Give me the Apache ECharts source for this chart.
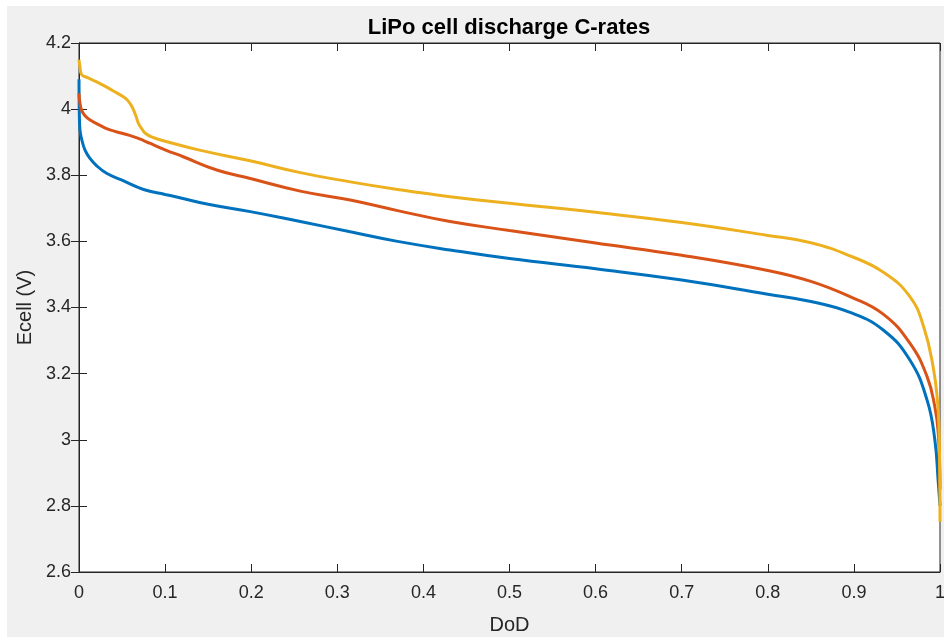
<!DOCTYPE html>
<html>
<head>
<meta charset="utf-8">
<script src="https://cdn.jsdelivr.net/npm/echarts@6/dist/echarts.min.js"></script>
<style>
html,body{margin:0;padding:0;background:#ffffff;}
#chart{position:absolute;left:7px;top:6px;width:937px;height:631px;}
</style>
</head>
<body>
<div id="chart"></div>
<script>
// Data (DoD, Ecell in V)
const dodBlue = [0, 0.0003, 0.001, 0.003, 0.007, 0.013, 0.02, 0.032, 0.05, 0.075, 0.1, 0.117, 0.15, 0.199, 0.257, 0.315, 0.37, 0.431, 0.5, 0.6, 0.7, 0.8, 0.85, 0.8955, 0.934, 0.965, 0.985, 0.994, 0.998, 1.0];
const vBlue   = [4.09, 4.0, 3.94, 3.91, 3.876, 3.85, 3.83, 3.806, 3.785, 3.757, 3.742, 3.732, 3.712, 3.69, 3.66, 3.629, 3.60, 3.574, 3.548, 3.517, 3.483, 3.44, 3.418, 3.385, 3.332, 3.241, 3.12, 3.0, 2.87, 2.8];

const dodRed = [0, 0.001, 0.003, 0.007, 0.013, 0.025, 0.036, 0.05, 0.063, 0.075, 0.082, 0.1, 0.121, 0.16, 0.199, 0.257, 0.315, 0.37, 0.431, 0.5, 0.6, 0.7, 0.8, 0.85, 0.8955, 0.934, 0.965, 0.985, 0.994, 0.998, 1.0];
const vRed   = [4.048, 4.02, 3.997, 3.98, 3.967, 3.95, 3.937, 3.927, 3.917, 3.905, 3.897, 3.877, 3.856, 3.816, 3.79, 3.752, 3.725, 3.693, 3.66, 3.633, 3.595, 3.558, 3.512, 3.479, 3.433, 3.38, 3.292, 3.191, 3.10, 3.02, 2.85];

const dodYellow = [0, 0.001, 0.003, 0.01, 0.024, 0.04, 0.051, 0.057, 0.062, 0.066, 0.069, 0.073, 0.077, 0.085, 0.1, 0.14, 0.2, 0.257, 0.315, 0.37, 0.431, 0.5, 0.6, 0.7, 0.8, 0.85, 0.8955, 0.934, 0.965, 0.981, 0.992, 0.997, 0.999, 1.0];
const vYellow   = [4.15, 4.13, 4.105, 4.095, 4.078, 4.055, 4.038, 4.025, 4.005, 3.98, 3.957, 3.94, 3.927, 3.915, 3.903, 3.876, 3.843, 3.808, 3.78, 3.757, 3.735, 3.715, 3.688, 3.657, 3.618, 3.596, 3.556, 3.507, 3.433, 3.342, 3.221, 3.12, 3.02, 2.752];

const titleText = 'LiPo cell discharge C-rates';
const xName = 'DoD';
const yName = 'Ecell (V)';

const FONT = "'Liberation Sans', Arial, Helvetica, sans-serif";
const AX = '#262626';

function pairs(xs, ys){ return xs.map((x,i)=>[x, ys[i]]); }

const chart = echarts.init(document.getElementById('chart'), null, {renderer:'canvas'});

const tickStyle = {show:true, inside:true, length:8, lineStyle:{color:AX, width:1}};
const lineStyleAx = {show:true, lineStyle:{color:AX, width:1}};
const fmt = v => String(+(+v).toFixed(1));

const option = {
  backgroundColor:'#f0f0f0',
  animation:false,
  title:{
    text:titleText, left:497, top:6, textAlign:'center',
    textStyle:{fontFamily:FONT, fontWeight:'bold', fontSize:22, color:'#000'}
  },
  grid:{left:72, right:4, top:37, bottom:65, containLabel:false, outerBoundsMode:'none',
        show:true, backgroundColor:'#ffffff', borderColor:AX, borderWidth:1},
  xAxis:[
    {type:'value', min:0, max:1, interval:0.1, position:'bottom',
     name:xName, nameLocation:'middle', nameGap:43,
     nameTextStyle:{fontFamily:FONT, fontSize:20, color:AX},
     axisLine:lineStyleAx, axisTick:tickStyle, splitLine:{show:false},
     axisLabel:{fontFamily:FONT, fontSize:18, color:AX, margin:12, formatter:fmt}},
    {type:'value', min:0, max:1, interval:0.1, position:'top',
     axisLine:lineStyleAx, axisTick:tickStyle, splitLine:{show:false}, axisLabel:{show:false}}
  ],
  yAxis:[
    {type:'value', min:2.6, max:4.2, interval:0.2, position:'left',
     name:yName, nameLocation:'middle', nameGap:44, nameRotate:90,
     nameTextStyle:{fontFamily:FONT, fontSize:20, color:AX},
     axisLine:lineStyleAx, axisTick:tickStyle, splitLine:{show:false},
     axisLabel:{fontFamily:FONT, fontSize:18, color:AX, margin:8, formatter:fmt}},
    {type:'value', min:2.6, max:4.2, interval:0.2, position:'right',
     axisLine:lineStyleAx, axisTick:tickStyle, splitLine:{show:false}, axisLabel:{show:false}}
  ],
  series:[
    {type:'line', data:pairs(dodBlue, vBlue), showSymbol:false, smooth:0.45,
     lineStyle:{color:'#0072BD', width:3}, z:2},
    {type:'line', data:pairs(dodRed, vRed), showSymbol:false, smooth:0.45,
     lineStyle:{color:'#D95319', width:3}, z:3},
    {type:'line', data:pairs(dodYellow, vYellow), showSymbol:false, smooth:0.45,
     lineStyle:{color:'#EDB120', width:3}, z:4}
  ]
};
chart.setOption(option);
</script>
</body>
</html>
